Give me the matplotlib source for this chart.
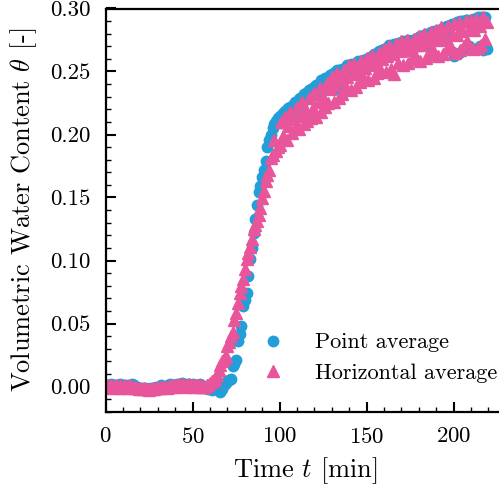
import numpy as np
import matplotlib
matplotlib.use('Agg')
import matplotlib.pyplot as plt
from matplotlib.ticker import MultipleLocator

plt.rcParams['font.family'] = 'serif'
plt.rcParams['font.serif'] = ['cmr10']
plt.rcParams['mathtext.fontset'] = 'cm'
plt.rcParams['axes.formatter.use_mathtext'] = True

# time in minutes (one reading per minute)
time_min = np.arange(0, 220)

# point average of the sensors
point_avg = [
    0.001, 0.000, 0.001, 0.002, 0.000, 0.001, -0.001, 0.001, 0.002, 0.000,
    0.001, 0.000, -0.001, 0.001, 0.000, 0.002, 0.001, -0.001, 0.000, -0.001,
    -0.002, -0.001, -0.002, -0.001, -0.003, -0.002, -0.001, -0.002, -0.001, 0.000,
    -0.001, 0.000, 0.001, 0.000, -0.001, 0.000, 0.001, 0.002, 0.001, 0.000,
    0.001, 0.002, 0.001, 0.002, 0.003, 0.001, 0.002, 0.001, 0.002, 0.001,
    0.002, 0.001, 0.000, 0.001, 0.002, 0.001, 0.000, -0.001, 0.000, -0.002,
    -0.001, -0.003, -0.002, 0.000, -0.001, -0.003, -0.004, -0.002, 0.001, 0.003,
    0.004, 0.005, 0.006, 0.016, 0.018, 0.021, 0.036, 0.042, 0.048, 0.064,
    0.069, 0.074, 0.088, 0.101, 0.110, 0.122, 0.133, 0.144, 0.154, 0.159,
    0.166, 0.172, 0.179, 0.190, 0.196, 0.200, 0.205, 0.208, 0.211, 0.213,
    0.215, 0.209, 0.217, 0.219, 0.213, 0.221, 0.222, 0.218, 0.224, 0.226,
    0.221, 0.228, 0.229, 0.224, 0.232, 0.233, 0.229, 0.235, 0.236, 0.231,
    0.238, 0.239, 0.234, 0.241, 0.243, 0.238, 0.245, 0.244, 0.240, 0.247,
    0.248, 0.243, 0.250, 0.251, 0.236, 0.251, 0.252, 0.247, 0.253, 0.255,
    0.250, 0.256, 0.255, 0.249, 0.257, 0.258, 0.252, 0.258, 0.259, 0.254,
    0.260, 0.261, 0.255, 0.262, 0.264, 0.258, 0.265, 0.266, 0.260, 0.267,
    0.268, 0.262, 0.269, 0.271, 0.264, 0.271, 0.272, 0.266, 0.273, 0.273,
    0.268, 0.274, 0.273, 0.266, 0.275, 0.274, 0.268, 0.275, 0.276, 0.270,
    0.276, 0.278, 0.271, 0.279, 0.280, 0.272, 0.280, 0.281, 0.274, 0.282,
    0.281, 0.275, 0.283, 0.284, 0.276, 0.285, 0.286, 0.277, 0.287, 0.288,
    0.262, 0.288, 0.289, 0.265, 0.290, 0.290, 0.268, 0.291, 0.291, 0.270,
    0.291, 0.292, 0.268, 0.292, 0.293, 0.270, 0.293, 0.267, 0.293, 0.268,
]

# horizontal average over the layer
horiz_avg = [
    0.000, 0.001, 0.000, 0.001, -0.001, 0.000, 0.001, 0.000, 0.001, -0.001,
    0.000, 0.001, -0.001, 0.000, 0.001, 0.000, -0.001, 0.000, -0.001, -0.002,
    -0.001, -0.002, -0.001, -0.002, -0.002, -0.003, -0.002, -0.001, -0.002, -0.001,
    -0.001, 0.000, -0.001, 0.000, 0.000, -0.001, 0.000, 0.001, 0.000, 0.001,
    0.000, 0.001, 0.002, 0.001, 0.002, 0.001, 0.000, 0.001, 0.002, 0.001,
    0.001, 0.000, 0.001, 0.001, 0.000, 0.001, 0.000, 0.000, 0.001, 0.001,
    0.003, 0.004, 0.005, 0.006, 0.009, 0.013, 0.017, 0.020, 0.022, 0.024,
    0.032, 0.035, 0.040, 0.043, 0.053, 0.058, 0.066, 0.074, 0.080, 0.085,
    0.093, 0.101, 0.106, 0.111, 0.117, 0.125, 0.128, 0.131, 0.136, 0.142,
    0.150, 0.155, 0.163, 0.168, 0.172, 0.181, 0.184, 0.196, 0.187, 0.190,
    0.192, 0.210, 0.199, 0.214, 0.196, 0.207, 0.218, 0.201, 0.212, 0.205,
    0.222, 0.204, 0.215, 0.226, 0.208, 0.219, 0.211, 0.229, 0.213, 0.221,
    0.233, 0.214, 0.226, 0.237, 0.218, 0.230, 0.222, 0.241, 0.225, 0.236,
    0.246, 0.226, 0.239, 0.249, 0.229, 0.243, 0.232, 0.251, 0.238, 0.246,
    0.255, 0.235, 0.248, 0.256, 0.238, 0.251, 0.242, 0.258, 0.246, 0.253,
    0.261, 0.243, 0.255, 0.263, 0.245, 0.257, 0.249, 0.265, 0.252, 0.260,
    0.268, 0.250, 0.262, 0.270, 0.252, 0.264, 0.248, 0.272, 0.257, 0.266,
    0.274, 0.255, 0.267, 0.275, 0.257, 0.269, 0.260, 0.276, 0.263, 0.271,
    0.278, 0.258, 0.271, 0.280, 0.261, 0.274, 0.264, 0.281, 0.267, 0.276,
    0.283, 0.262, 0.275, 0.285, 0.264, 0.278, 0.268, 0.286, 0.271, 0.280,
    0.288, 0.265, 0.279, 0.289, 0.267, 0.282, 0.270, 0.290, 0.274, 0.284,
    0.291, 0.268, 0.283, 0.292, 0.269, 0.286, 0.271, 0.293, 0.276, 0.289,
]

blue = '#229fd9'
pink = '#e8559a'

fig = plt.figure(figsize=(4.99, 4.87), dpi=100)
ax = fig.add_axes([105.7 / 499, 75.3 / 487, 400 / 499, 403.2 / 487])

ax.plot(time_min, point_avg, 'o', color=blue, markersize=7.5, lw=0, label='Point average')
ax.plot(time_min, horiz_avg, '^', color=pink, markersize=8.5, lw=0, label='Horizontal average')

ax.set_xlim(0, 230)
ax.set_ylim(-0.02, 0.30)
ax.xaxis.set_major_locator(MultipleLocator(50))
ax.xaxis.set_minor_locator(MultipleLocator(10))
ax.yaxis.set_major_locator(MultipleLocator(0.05))
ax.yaxis.set_minor_locator(MultipleLocator(0.01))
ax.yaxis.set_major_formatter(matplotlib.ticker.FormatStrFormatter('%.2f'))

for s in ax.spines.values():
    s.set_linewidth(1.6)
ax.spines['right'].set_visible(False)
ax.tick_params(which='both', direction='in', top=False, right=False, labelsize=16.5)
ax.tick_params(which='major', length=7, width=1.5, pad=11)
ax.tick_params(which='minor', length=3.5, width=1.0)

ax.set_xlabel('Time $t$ [min]', fontsize=19, labelpad=6)
ax.set_ylabel(r'Volumetric Water Content $\theta$ [-]', fontsize=19, labelpad=8)

ax.legend(loc='lower right', bbox_to_anchor=(1.014, 0.195), bbox_transform=fig.transFigure,
          frameon=False, fontsize=16, handletextpad=0.9, borderaxespad=0.0, labelspacing=0.5)

fig.savefig('out.png', dpi=100)
